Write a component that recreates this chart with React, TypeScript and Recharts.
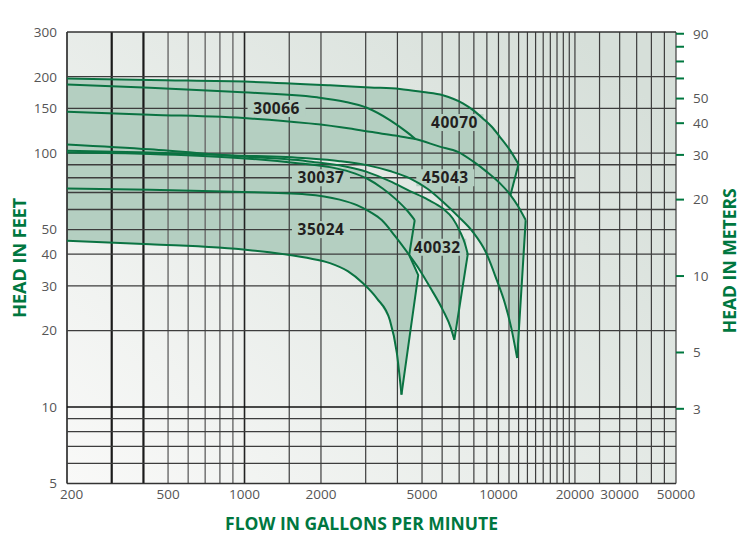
import React from 'react'
import {
  ComposedChart,
  XAxis,
  YAxis,
  Area,
  Line,
  ReferenceLine,
  ReferenceArea,
  ReferenceDot,
} from 'recharts'

type Pt = [number, number] // [flow gpm, head ft]

const GREEN = '#00773f'
const CURVE = '#0a7342'
const FILL = '#b4cfc1'
const TICK_TEXT = '#555555'
const FT_PER_M = 3.28084

// pump envelopes (gpm, ft)
const model40070Top: Pt[] = [
  [200, 197], [424, 194], [1050, 191], [2170, 185], [3120, 181.5], [4090, 179],
  [5040, 174], [6040, 169], [7240, 157], [7920, 148], [8680, 137], [9410, 127],
  [10120, 116], [11080, 103], [11990, 90.5],
]
const model30066Top: Pt[] = [
  [200, 186.5], [424, 181], [900, 174.4], [1930, 166], [2480, 159.5], [3030, 151],
  [3735, 135], [4360, 121], [4710, 113.6],
]
const model45043Top: Pt[] = [
  [200, 145.5], [424, 141.8], [1050, 137], [2600, 125.1], [3120, 121.3], [3910, 117.3],
  [4710, 113.6], [5870, 106.1], [6920, 101.2], [7920, 93], [9000, 84.4], [10120, 76.2],
  [11150, 68.4], [11910, 62.1], [12800, 54.5],
]
const model45043Bottom: Pt[] = [
  [200, 102.1], [424, 100.7], [910, 98], [1760, 95.4], [2370, 93], [3030, 89.7],
  [3735, 85], [4480, 79.6], [5270, 72.2], [6040, 64.3], [6920, 56.5], [7920, 49],
  [8910, 40.8], [9850, 31.6], [10590, 25.7], [11230, 20.5], [11840, 15.6],
]
const model40032Top: Pt[] = [
  [200, 108.2], [424, 103.5], [910, 97.4], [1760, 93], [3030, 84.4], [3735, 77.6],
  [4480, 70.9], [5270, 65.6], [6040, 60.5], [6610, 55.3], [7040, 49.3], [7370, 44.2],
  [7570, 40],
]
const model30037Top: Pt[] = [
  [200, 100.5], [424, 99.3], [910, 96], [1650, 91.1], [2170, 88.1], [2600, 84.4],
  [3060, 79.1], [3500, 72.6], [3940, 65.9], [4350, 59.7], [4680, 54.5],
]
const model40032Bottom: Pt[] = [
  [200, 72.6], [424, 71.8], [910, 70.5], [1760, 68.8], [2370, 65.6], [2770, 62.4],
  [3120, 58.7], [3470, 54.5], [3910, 47.2], [4450, 39.7], [4900, 34.6], [5370, 29.7],
  [6040, 24.1], [6490, 20.5], [6700, 18.4],
]
const model35024Bottom: Pt[] = [
  [200, 45.2], [424, 43.8], [1050, 41.5], [1760, 38.7], [2170, 36.9], [2550, 34.3],
  [2920, 30.8], [3320, 26.8], [3735, 22], [3980, 16.3], [4150, 11.2],
]
const model35024Knee: Pt[] = [[4830, 33.1]]

const tagNames = ['30066', '40070', '30037', '45043', '35024', '40032']
const tagFlow = [1337, 6710, 2000, 6175, 2000, 5740]
const tagHead = [150, 132, 80, 80, 50, 42.6]

const bottomTicks = [200, 500, 1000, 2000, 5000, 10000, 20000, 30000, 50000]
const leftTicks = [5, 10, 20, 30, 40, 50, 100, 150, 200, 300]
const topTicks = [200, 500, 1000, 1500, 2000, 2500, 3000, 3500, 4000, 6000, 8000, 10000, 12000, 14000, 16000, 18000, 20000, 40000]
const topLabels = ['12.5', '25', '50', '75', '100', '', '', '', '200', '300', '400', '500', '', '', '', '', '1000', '2000']
const meterTicks = [90, 80, 70, 60, 50, 40, 30, 20, 10, 5, 3]
const meterLabelled = [90, 50, 40, 30, 20, 10, 5, 3]

const flowGrid = [
  200, 300, 400, 500, 600, 700, 800, 900, 1000, 1500, 2000, 3000, 4000, 5000, 6000, 7000,
  8000, 9000, 10000, 11000, 12000, 13000, 14000, 15000, 16000, 17000, 18000, 19000, 20000,
  25000, 30000, 35000, 40000, 45000, 50000,
]
const headGrid = [300, 200, 150, 100, 90, 70, 60, 50, 40, 30, 20, 10, 9, 8, 7, 6, 5]
const headGridShort = [80] // stops at 20000 gpm

const last = (pts: Pt[]) => pts[pts.length - 1]
const at = (pts: Pt[], flow: number) => pts.find((p) => p[0] === flow) as Pt
const upTo = (pts: Pt[], flow: number) => pts.filter((p) => p[0] <= flow)
const closeShape = (top: Pt[], bottom: Pt[]): Pt[] => [...top, ...[...bottom].reverse(), top[0]]
const rows = (pts: Pt[], key: string) => pts.map(([gpm, ft]) => ({ gpm, [key]: ft }))

const fills: [string, Pt[]][] = [
  ['f40070', closeShape(model40070Top, upTo(model45043Top, 11150))],
  ['f45043', closeShape(model45043Top, model45043Bottom)],
  ['f30037', closeShape(model30037Top, upTo(model40032Bottom, 4450))],
  ['f40032', closeShape(model40032Top, model40032Bottom)],
  ['f35024', closeShape([...upTo(model40032Bottom, 4450), ...model35024Knee], model35024Bottom)],
]

const curves: [string, Pt[]][] = [
  ['c40070', model40070Top],
  ['c30066', model30066Top],
  ['c45043t', model45043Top],
  ['c45043b', model45043Bottom],
  ['c40032t', model40032Top],
  ['c30037', model30037Top],
  ['c40032b', model40032Bottom],
  ['c35024', model35024Bottom],
]

const endLines: [string, Pt[]][] = [
  ['e40070', [last(model40070Top), at(model45043Top, 11150)]],
  ['e45043', [last(model45043Top), last(model45043Bottom)]],
  ['e30037', [last(model30037Top), at(model40032Bottom, 4450)]],
  ['e35024', [at(model40032Bottom, 4450), ...model35024Knee, last(model35024Bottom)]],
  ['e40032', [last(model40032Top), last(model40032Bottom)]],
]

function flowGridStyle(v: number) {
  if (v === 300 || v === 400) return { stroke: '#1a1a1a', strokeWidth: 2.2 }
  if (v === 200 || v === 1000) return { stroke: '#222222', strokeWidth: 1.6 }
  if (v > 400 && v < 1000) return { stroke: '#6a6a6a', strokeWidth: 1.4 }
  return { stroke: '#3d3d3d', strokeWidth: 1.2 }
}

function headGridStyle(v: number) {
  if (v === 10) return { stroke: '#111111', strokeWidth: 1.6 }
  if (v === 5 || v === 300) return { stroke: '#333333', strokeWidth: 1.6 }
  return { stroke: '#3d3d3d', strokeWidth: 1.3 }
}

const tagShape = (text: string) => (props: any) => {
  const { cx, cy } = props
  return (
    <g>
      <rect x={cx - 29} y={cy - 8.5} width={58} height={17} fill={FILL} />
      <text
        x={cx}
        y={cy}
        dy="0.36em"
        textAnchor="middle"
        fontSize={15.5}
        fontWeight={700}
        letterSpacing={0.5}
        fill="#231f20"
        fontFamily='"Open Sans", sans-serif'
      >
        {text}
      </text>
    </g>
  )
}

function TopTick(props: any) {
  const { x, y, payload, index } = props
  const label = topLabels[topTicks.indexOf(payload.value)] ?? ''
  return (
    <text x={x} y={y} dx={index === 0 ? -4 : 0} textAnchor={index === 0 ? 'start' : 'middle'} fontSize={13.5} fill={TICK_TEXT}>
      {label}
    </text>
  )
}

function BottomTick(props: any) {
  const { x, y, payload, index } = props
  return (
    <text x={x} y={y} dy={10.5} dx={index === 0 ? -7 : 0} textAnchor={index === 0 ? 'start' : 'middle'} fontSize={13.5} fill={TICK_TEXT}>
      {payload.value}
    </text>
  )
}

const titleStyle = { fill: GREEN, fontSize: 18, fontWeight: 700, fontFamily: '"Open Sans", sans-serif' }

function FeetTitle(props: any) {
  const { x, y, height } = props.viewBox
  const cx = x + 19
  const cy = y + height / 2
  return (
    <text x={cx} y={cy} transform={`rotate(-90 ${cx} ${cy})`} textAnchor="middle" dominantBaseline="central" {...titleStyle}>
      HEAD IN FEET
    </text>
  )
}

function MetersTitle(props: any) {
  const { x, y, height } = props.viewBox
  const cx = x + 53
  const cy = y + height / 2 + 3
  return (
    <text x={cx} y={cy} transform={`rotate(-90 ${cx} ${cy})`} textAnchor="middle" dominantBaseline="central" {...titleStyle} fontSize={17.5}>
      HEAD IN METERS
    </text>
  )
}

function FlowTitle(props: any) {
  const { x, y, width } = props.viewBox
  return (
    <text x={x + width / 2 - 10} y={y + 39} textAnchor="middle" dominantBaseline="central" {...titleStyle} fontSize={17.5}>
      FLOW IN GALLONS PER MINUTE
    </text>
  )
}

export default function App() {
  return (
    <div style={{ position: 'absolute', left: 0, top: 0, width: 741, height: 539, background: '#ffffff', fontFamily: '"Open Sans", sans-serif' }}>
      <ComposedChart width={741} height={539} margin={{ top: 0, right: 0, bottom: 0, left: 0 }}>
        <defs>
          <linearGradient id="plotBg" x1="0" y1="1" x2="1" y2="0.2">
            <stop offset="0%" stopColor="#f9f9f8" />
            <stop offset="100%" stopColor="#d6dfd9" />
          </linearGradient>
        </defs>

        <XAxis
          dataKey="gpm"
          type="number"
          scale="log"
          domain={[200, 50000]}
          allowDataOverflow
          ticks={bottomTicks}
          interval={0}
          height={55.5}
          axisLine={false}
          tickLine={false}
          tickSize={0}
          tickMargin={5}
          tick={<BottomTick />}
          label={{ content: FlowTitle }}
        />
        <XAxis
          xAxisId="top"
          orientation="top"
          type="number"
          scale="log"
          domain={[200, 50000]}
          allowDataOverflow
          ticks={topTicks}
          interval={0}
          height={32}
          axisLine={false}
          tickLine={{ stroke: GREEN, strokeWidth: 2 }}
          tickSize={5}
          tickMargin={7}
          tick={<TopTick />}
        />
        <YAxis
          type="number"
          scale="log"
          domain={[5, 300]}
          allowDataOverflow
          ticks={leftTicks}
          interval={0}
          width={67}
          axisLine={false}
          tickLine={false}
          tickSize={0}
          tickMargin={10}
          tick={{ fill: TICK_TEXT, fontSize: 13.5 }}
          label={{ content: FeetTitle }}
        />
        <YAxis
          yAxisId="right"
          orientation="right"
          type="number"
          scale="log"
          domain={[5, 300]}
          allowDataOverflow
          ticks={meterTicks.map((m) => m * FT_PER_M)}
          interval={0}
          width={65}
          axisLine={false}
          tickLine={{ stroke: GREEN, strokeWidth: 2 }}
          tickSize={8}
          tickMargin={9}
          tick={{ fill: TICK_TEXT, fontSize: 13.5 }}
          tickFormatter={(v: number) => {
            const m = Math.round(v / FT_PER_M)
            return meterLabelled.includes(m) ? String(m) : ''
          }}
          label={{ content: MetersTitle }}
        />

        <ReferenceArea x1={200} x2={50000} y1={5} y2={300} fill="url(#plotBg)" fillOpacity={1} stroke="none" zIndex={-200} />

        {fills.map(([key, pts]) => (
          <Area
            key={key}
            data={rows(pts, key)}
            dataKey={key}
            type="linear"
            stroke="none"
            fill={FILL}
            fillOpacity={1}
            dot={false}
            activeDot={false}
            isAnimationActive={false}
          />
        ))}

        {flowGrid.map((v) => (
          <ReferenceLine key={`vx${v}`} x={v} {...flowGridStyle(v)} zIndex={150} />
        ))}
        {headGrid.map((v) => (
          <ReferenceLine key={`hy${v}`} y={v} {...headGridStyle(v)} zIndex={150} />
        ))}
        {headGridShort.map((v) => (
          <ReferenceLine
            key={`hs${v}`}
            segment={[{ x: 200, y: v }, { x: 20000, y: v }]}
            {...headGridStyle(v)}
            zIndex={150}
          />
        ))}

        {tagNames.map((name, i) => (
          <ReferenceDot key={name} x={tagFlow[i]} y={tagHead[i]} r={0} shape={tagShape(name)} zIndex={160} />
        ))}

        {curves.map(([key, pts]) => (
          <Line
            key={key}
            data={rows(pts, key)}
            dataKey={key}
            type="monotone"
            stroke={CURVE}
            strokeWidth={2}
            dot={false}
            activeDot={false}
            isAnimationActive={false}
          />
        ))}
        {endLines.map(([key, pts]) => (
          <Line
            key={key}
            data={rows(pts, key)}
            dataKey={key}
            type="linear"
            stroke={CURVE}
            strokeWidth={2}
            dot={false}
            activeDot={false}
            isAnimationActive={false}
          />
        ))}
      </ComposedChart>
    </div>
  )
}
